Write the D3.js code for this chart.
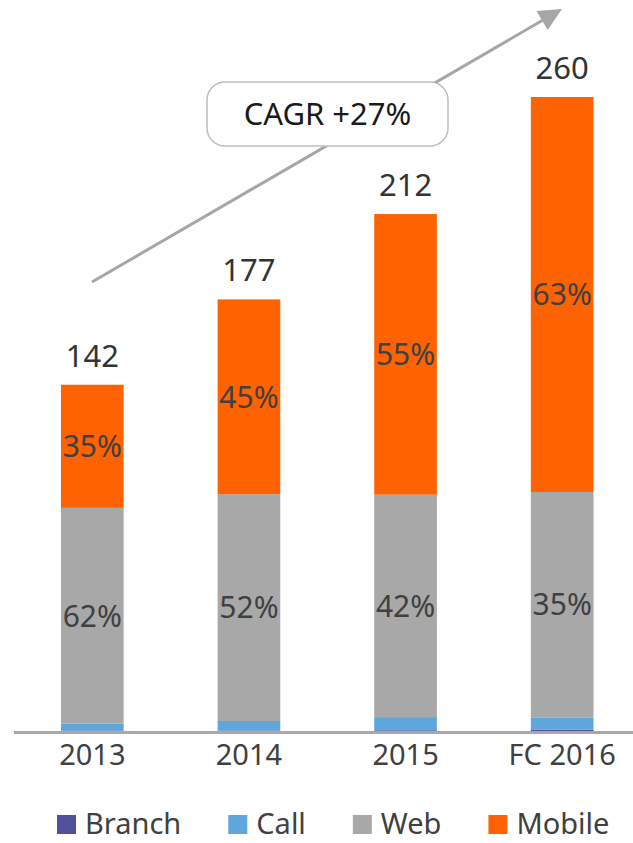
<!DOCTYPE html>
<html>
<head>
<meta charset="utf-8">
<script src="https://cdn.jsdelivr.net/npm/d3@7"></script>
<style>
    body { margin: 0; background: #fff; }
    svg { display: block; font-family: "Noto Sans", sans-serif; }
</style>
</head>
<body>
<svg id="chart" width="633" height="843"></svg>
<script>
// values (absolute, per year)
const years = ["2013", "2014", "2015", "FC 2016"]
const branch = [0.2, 0.2, 0.3, 0.6]
const call = [2.8, 3.9, 5.4, 5.0]
const web = [88.5, 93.0, 91.2, 92.4]
const mobile = [50.5, 79.9, 115.1, 162.0]
const totals = [142, 177, 212, 260]
const webLabels = ["62%", "52%", "42%", "35%"]
const mobileLabels = ["35%", "45%", "55%", "63%"]
const seriesNames = ["Branch", "Call", "Web", "Mobile"]
const cagrText = "CAGR +27%"

const colors = {Branch: "#524f9b", Call: "#5fa6dc", Web: "#a8a8a8", Mobile: "#ff6200"}
const textColor = "#404040"

const svg = d3.select("#chart")

const x = d3.scaleBand()
    .domain(years)
    .range([14, 640.5])
    .paddingInner(0.6)
    .paddingOuter(0.3)

const y = d3.scaleLinear()
    .domain([0, 260])
    .range([731, 97])

const rows = years.map((yr, i) => ({
    year: yr, Branch: branch[i], Call: call[i], Web: web[i], Mobile: mobile[i]
}))

const stacked = d3.stack().keys(seriesNames)(rows)

svg.append("g")
  .selectAll("g")
  .data(stacked)
  .enter()
  .append("g")
  .attr("fill", s => colors[s.key])
  .selectAll("rect")
  .data(s => s)
  .enter()
  .append("rect")
  .attr("x", d => x(d.data.year))
  .attr("width", x.bandwidth())
  .attr("y", d => y(d[1]))
  .attr("height", d => y(d[0]) - y(d[1]))

// baseline
svg.append("line")
  .attr("x1", 14)
  .attr("x2", 633)
  .attr("y1", y(0) + 1.5)
  .attr("y2", y(0) + 1.5)
  .attr("stroke", "#a8a8a8")
  .attr("stroke-width", 3)

// x axis labels
const xAxis = d3.axisBottom(x).tickSize(0).tickPadding(10)
svg.append("g")
  .attr("transform", "translate(0," + (y(0) + 3) + ")")
  .call(xAxis)
  .call(g => g.select(".domain").remove())
  .selectAll("text")
  .attr("font-size", 29)
  .attr("font-family", "Noto Sans")
  .attr("fill", textColor)

// segment labels
const webSeries = stacked[2]
const mobileSeries = stacked[3]

svg.append("g")
  .selectAll("text")
  .data(webSeries)
  .enter()
  .append("text")
  .attr("x", d => x(d.data.year) + x.bandwidth() / 2)
  .attr("y", d => (y(d[0]) + y(d[1])) / 2)
  .attr("dy", "0.36em")
  .attr("text-anchor", "middle")
  .attr("font-size", 30)
  .attr("fill", textColor)
  .text((d, i) => webLabels[i])

svg.append("g")
  .selectAll("text")
  .data(mobileSeries)
  .enter()
  .append("text")
  .attr("x", d => x(d.data.year) + x.bandwidth() / 2)
  .attr("y", d => (y(d[0]) + y(d[1])) / 2)
  .attr("dy", "0.36em")
  .attr("text-anchor", "middle")
  .attr("font-size", 30)
  .attr("fill", textColor)
  .text((d, i) => mobileLabels[i])

// totals above bars
svg.append("g")
  .selectAll("text")
  .data(totals)
  .enter()
  .append("text")
  .attr("x", (d, i) => x(years[i]) + x.bandwidth() / 2)
  .attr("y", d => y(d) - 18)
  .attr("text-anchor", "middle")
  .attr("font-size", 31)
  .attr("fill", "#333")
  .text(d => d)

// growth arrow
const start = [92, 282], tip = [562, 9]
const dx = tip[0] - start[0], dy = tip[1] - start[1]
const len = Math.sqrt(dx * dx + dy * dy)
const ux = dx / len, uy = dy / len
const headLen = 23, headHalf = 11
const bx = tip[0] - ux * headLen, by = tip[1] - uy * headLen

svg.append("line")
  .attr("x1", start[0])
  .attr("y1", start[1])
  .attr("x2", bx + ux * 2)
  .attr("y2", by + uy * 2)
  .attr("stroke", "#a6a6a6")
  .attr("stroke-width", 3)

svg.append("polygon")
  .attr("points", [
      tip,
      [bx - uy * headHalf, by + ux * headHalf],
      [bx + uy * headHalf, by - ux * headHalf]
  ].map(p => p.join(",")).join(" "))
  .attr("fill", "#a6a6a6")

// CAGR box
svg.append("rect")
  .attr("x", 207)
  .attr("y", 82)
  .attr("width", 241)
  .attr("height", 64)
  .attr("rx", 18)
  .attr("fill", "#fff")
  .attr("stroke", "#bdbdbd")
  .attr("stroke-width", 1.5)

svg.append("text")
  .attr("x", 327.5)
  .attr("y", 114)
  .attr("dy", "0.36em")
  .attr("text-anchor", "middle")
  .attr("font-size", 31)
  .attr("fill", "#1a1a1a")
  .text(cagrText)

// legend
const legend = svg.append("g")
let lx = 57
seriesNames.forEach(name => {
    legend.append("rect")
      .attr("x", lx)
      .attr("y", 815)
      .attr("width", 19)
      .attr("height", 19)
      .attr("fill", colors[name])
    let t = legend.append("text")
      .attr("x", lx + 28)
      .attr("y", 834)
      .attr("font-size", 29)
      .attr("fill", textColor)
      .text(name)
    lx += 28 + t.node().getComputedTextLength() + 47
})
</script>
</body>
</html>
